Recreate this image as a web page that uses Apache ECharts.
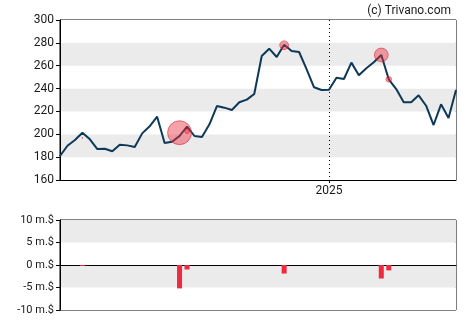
<!DOCTYPE html>
<html>
<head>
<meta charset="utf-8">
<script src="https://cdn.jsdelivr.net/npm/echarts@6/dist/echarts.min.js"></script>
<style>
  html, body { margin: 0; padding: 0; background: #fff; }
  #chart { width: 470px; height: 325px; }
</style>
</head>
<body>
<div id="chart"></div>
<script>
// Weekly closing prices
const weeks = [
  '2024-04-26','2024-05-03','2024-05-10','2024-05-17','2024-05-24','2024-05-31',
  '2024-06-07','2024-06-14','2024-06-21','2024-06-28','2024-07-05','2024-07-12',
  '2024-07-19','2024-07-26','2024-08-02','2024-08-09','2024-08-16','2024-08-23',
  '2024-08-30','2024-09-06','2024-09-13','2024-09-20','2024-09-27','2024-10-04',
  '2024-10-11','2024-10-18','2024-10-25','2024-11-01','2024-11-08','2024-11-15',
  '2024-11-22','2024-11-29','2024-12-06','2024-12-13','2024-12-20','2024-12-27',
  '2025-01-03','2025-01-10','2025-01-17','2025-01-24','2025-01-31','2025-02-07',
  '2025-02-14','2025-02-21','2025-02-28','2025-03-07','2025-03-14','2025-03-21',
  '2025-03-28','2025-04-04','2025-04-11','2025-04-18','2025-04-25','2025-05-02'
];
const closes = [
  181, 190, 195, 201.4, 195.6, 187.1, 187.4, 185.1, 190.9, 190.3,
  188.9, 200.8, 207, 215.4, 192.4, 193.5, 198.5, 206.7, 198.5, 197.6,
  208.7, 224.7, 223.3, 221.3, 228, 230.3, 235.3, 268.5, 274.9, 267.6,
  278.4, 272.9, 272, 257.1, 241.1, 238.8, 239, 249.5, 248.4, 262.7,
  251.6, 257.7, 263, 269.4, 248.1, 239.6, 228, 228, 234.1, 225,
  208.1, 226.2, 214.3, 238.8
];

// Insider transactions: week, trade price, net amount (million $)
const tradeWeeks  = ['2024-05-17','2024-08-16','2024-08-23','2024-11-22','2025-02-21','2025-02-28'];
const tradePrices = [196.8, 201.4, 202.6, 277.9, 269.4, 248.1];
const tradeAmts   = [-0.2, -5.2, -1.0, -1.9, -3.0, -1.2];

const priceTicks = { min: 160, max: 300, step: 20 };
const amtTicks = { min: -10, max: 10, step: 5 };

const yearStart = weeks.findIndex((d, i) => i > 0 && d.slice(0, 4) !== weeks[i - 1].slice(0, 4));

const amtByWeek = weeks.map(w => {
  const k = tradeWeeks.indexOf(w);
  return k >= 0 ? tradeAmts[k] : null;
});
const bubbles = tradeWeeks.map((w, k) => ({
  value: [w, tradePrices[k]],
  symbolSize: Math.abs(tradeAmts[k]) * 4.6
}));

const textColor = '#1a1a1a';
const font = 'Roboto, "Liberation Sans", Arial, sans-serif';
const band = ['#ffffff', '#ebebeb'];

const chart = echarts.init(document.getElementById('chart'), null, { renderer: 'canvas' });
chart.setOption({
  animation: false,
  backgroundColor: '#fff',
  title: {
    text: '(c) Trivano.com',
    right: 14, top: 0,
    textStyle: { fontFamily: font, fontSize: 12, fontWeight: 'normal', color: textColor }
  },
  grid: [
    { left: 60, right: 14, top: 20, height: 160, show: true, borderColor: '#000', borderWidth: 1, backgroundColor: 'transparent' },
    { left: 60, right: 14, top: 220, height: 90, show: true, borderColor: '#000', borderWidth: 1, backgroundColor: 'transparent' }
  ],
  xAxis: [
    {
      type: 'category', gridIndex: 0, data: weeks, boundaryGap: false,
      axisLine: { show: true, lineStyle: { color: '#000', width: 1 } },
      axisTick: { show: true, length: 3, lineStyle: { color: '#000' }, interval: (i) => i === yearStart },
      axisLabel: {
        show: true, interval: (i) => i === yearStart, margin: 5,
        formatter: (v) => v.slice(0, 4),
        fontFamily: font, fontSize: 12, color: textColor
      },
      splitLine: { show: true, interval: (i) => i === yearStart, lineStyle: { color: '#000', type: [1, 3], width: 1 } }
    },
    {
      type: 'category', gridIndex: 1, data: weeks, boundaryGap: false,
      axisLine: { show: true, onZero: true, lineStyle: { color: '#000', width: 1 } },
      axisTick: { show: false }, axisLabel: { show: false }, splitLine: { show: false }
    }
  ],
  yAxis: [
    {
      type: 'value', gridIndex: 0, min: priceTicks.min, max: priceTicks.max, interval: priceTicks.step,
      axisLine: { show: true, lineStyle: { color: '#000' } },
      axisTick: { show: true, length: 4, lineStyle: { color: '#000' } },
      axisLabel: { fontFamily: font, fontSize: 12, color: textColor, margin: 6 },
      splitLine: { show: false },
      splitArea: { show: true, areaStyle: { color: band } }
    },
    {
      type: 'value', gridIndex: 1, min: amtTicks.min, max: amtTicks.max, interval: amtTicks.step,
      axisLine: { show: true, lineStyle: { color: '#000' } },
      axisTick: { show: true, length: 4, lineStyle: { color: '#000' } },
      axisLabel: { fontFamily: font, fontSize: 11, color: textColor, margin: 6, formatter: (v) => v + ' m.$' },
      splitLine: { show: false },
      splitArea: { show: true, areaStyle: { color: band } }
    }
  ],
  series: [
    {
      type: 'line', xAxisIndex: 0, yAxisIndex: 0, data: closes,
      symbol: 'none', lineStyle: { color: '#0e3858', width: 2 }, z: 3
    },
    {
      type: 'scatter', xAxisIndex: 0, yAxisIndex: 0, data: bubbles,
      itemStyle: { color: 'rgba(236,40,58,0.55)', borderColor: 'rgba(214,30,48,0.7)', borderWidth: 1 }, z: 4
    },
    {
      type: 'bar', xAxisIndex: 1, yAxisIndex: 1, data: amtByWeek,
      barWidth: 5, itemStyle: { color: '#ee2a40' }
    }
  ]
});
</script>
</body>
</html>
